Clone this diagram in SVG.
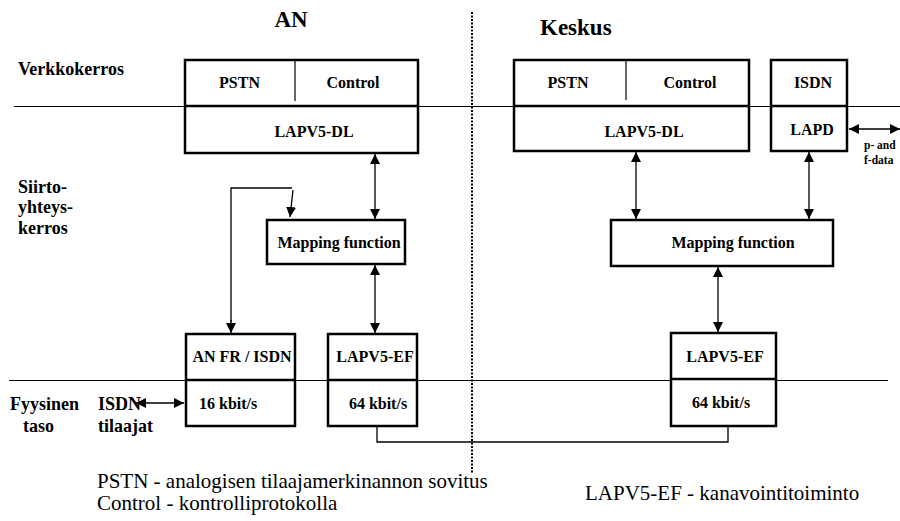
<svg xmlns="http://www.w3.org/2000/svg" width="900" height="521" viewBox="0 0 900 521">
<defs>
<marker id="ah" viewBox="0 0 10 10" refX="10" refY="5" markerWidth="10" markerHeight="10" markerUnits="userSpaceOnUse" orient="auto-start-reverse">
<path d="M0,0 L10,5 L0,10 z" fill="#000"/>
</marker>
<style>
.box{fill:#fff;stroke:#000;stroke-width:2.5}
.div{stroke:#000;stroke-width:2.5}
.thin{stroke:#000;stroke-width:1.2}
.layer{stroke:#000;stroke-width:1}
.arr{stroke:#000;stroke-width:1.3;fill:none}
text{font-family:'Liberation Serif','Times New Roman',serif;fill:#000}
.t{font-weight:bold;font-size:16px}
.lbl{font-weight:bold;font-size:18px}
.title{font-weight:bold;font-size:23px}
.leg{font-size:21px}
.sm{font-weight:bold;font-size:11.5px}
</style>
</defs>
<g id="layers">
<line class="layer" x1="14" y1="106.5" x2="900" y2="106.5"/>
<line class="layer" x1="9" y1="380.5" x2="888" y2="380.5"/>
<line x1="472" y1="12" x2="472" y2="473" stroke="#000" stroke-width="2" stroke-dasharray="2,1.5"/>
</g>
<g id="labels">
<text class="title" x="291" y="27" text-anchor="middle">AN</text>
<text class="title" x="540" y="35">Keskus</text>
<text class="lbl" x="18" y="75">Verkkokerros</text>
<text class="lbl" x="18" y="193">Siirto-</text>
<text class="lbl" x="18" y="213">yhteys-</text>
<text class="lbl" x="18" y="234">kerros</text>
<text class="lbl" x="10" y="410">Fyysinen</text>
<text class="lbl" x="23" y="432">taso</text>
<text class="lbl" x="98" y="410">ISDN</text>
<text class="lbl" x="98" y="432">tilaajat</text>
<text class="sm" x="864" y="149">p- and</text>
<text class="sm" x="864" y="164">f-data</text>
<text class="leg" x="97" y="488">PSTN - analogisen tilaajamerkinannon sovitus</text>
<text class="leg" x="97" y="510">Control - kontrolliprotokolla</text>
<text class="leg" x="585" y="500">LAPV5-EF - kanavointitoiminto</text>
</g>
<g id="an-top">
<rect class="box" x="185" y="60" width="233" height="93"/>
<line class="div" x1="185" y1="106" x2="418" y2="106"/>
<line class="thin" x1="295" y1="60" x2="295" y2="101"/>
<text class="t" x="239.5" y="88" text-anchor="middle">PSTN</text>
<text class="t" x="353" y="88" text-anchor="middle">Control</text>
<text class="t" x="314" y="137" text-anchor="middle">LAPV5-DL</text>
</g>
<g id="an-mapping">
<rect class="box" x="267" y="220" width="138" height="44"/>
<text class="t" x="339" y="248" text-anchor="middle">Mapping function</text>
</g>
<g id="an-fr">
<rect class="box" x="186" y="334" width="109" height="92"/>
<line class="div" x1="186" y1="380" x2="295" y2="380"/>
<text class="t" x="242" y="362" text-anchor="middle">AN FR / ISDN</text>
<text class="t" x="199" y="409">16 kbit/s</text>
</g>
<g id="an-ef">
<rect class="box" x="328" y="334" width="89" height="92"/>
<line class="div" x1="328" y1="380" x2="417" y2="380"/>
<text class="t" x="375" y="362" text-anchor="middle">LAPV5-EF</text>
<text class="t" x="378" y="409" text-anchor="middle">64 kbit/s</text>
</g>
<g id="k-top">
<rect class="box" x="514" y="60" width="235" height="91"/>
<line class="div" x1="514" y1="106" x2="749" y2="106"/>
<line class="thin" x1="626" y1="60" x2="626" y2="100"/>
<text class="t" x="568" y="88" text-anchor="middle">PSTN</text>
<text class="t" x="690" y="88" text-anchor="middle">Control</text>
<text class="t" x="644" y="137" text-anchor="middle">LAPV5-DL</text>
</g>
<g id="k-isdn">
<rect class="box" x="771" y="60" width="76" height="91"/>
<line class="div" x1="771" y1="106" x2="847" y2="106"/>
<text class="t" x="813" y="88" text-anchor="middle">ISDN</text>
<text class="t" x="812" y="135" text-anchor="middle">LAPD</text>
</g>
<g id="k-mapping">
<rect class="box" x="611" y="220" width="222" height="46"/>
<text class="t" x="733" y="248" text-anchor="middle">Mapping function</text>
</g>
<g id="k-ef">
<rect class="box" x="671" y="333" width="105" height="93"/>
<line class="div" x1="671" y1="379" x2="776" y2="379"/>
<text class="t" x="725" y="362" text-anchor="middle">LAPV5-EF</text>
<text class="t" x="721" y="408" text-anchor="middle">64 kbit/s</text>
</g>
<g id="connectors">
<line class="arr" x1="375" y1="154" x2="375" y2="219" marker-start="url(#ah)" marker-end="url(#ah)"/>
<line class="arr" x1="375" y1="265" x2="375" y2="333" marker-start="url(#ah)" marker-end="url(#ah)"/>
<polyline class="arr" points="231,322 231,188 292,188"/>
<line class="arr" x1="231" y1="320" x2="231" y2="333" marker-end="url(#ah)"/>
<line class="arr" x1="293" y1="190" x2="290" y2="217" marker-end="url(#ah)"/>
<line class="arr" x1="636" y1="152" x2="636" y2="219" marker-start="url(#ah)" marker-end="url(#ah)"/>
<line class="arr" x1="809" y1="152" x2="809" y2="219" marker-start="url(#ah)" marker-end="url(#ah)"/>
<line class="arr" x1="718" y1="267" x2="718" y2="332" marker-start="url(#ah)" marker-end="url(#ah)"/>
<line class="arr" x1="849" y1="129" x2="900" y2="129" marker-start="url(#ah)" marker-end="url(#ah)"/>
<line class="arr" x1="136" y1="403" x2="184" y2="403" marker-start="url(#ah)" marker-end="url(#ah)"/>
<polyline class="arr" points="377,427 377,442 728,442 728,427"/>
</g>
</svg>
